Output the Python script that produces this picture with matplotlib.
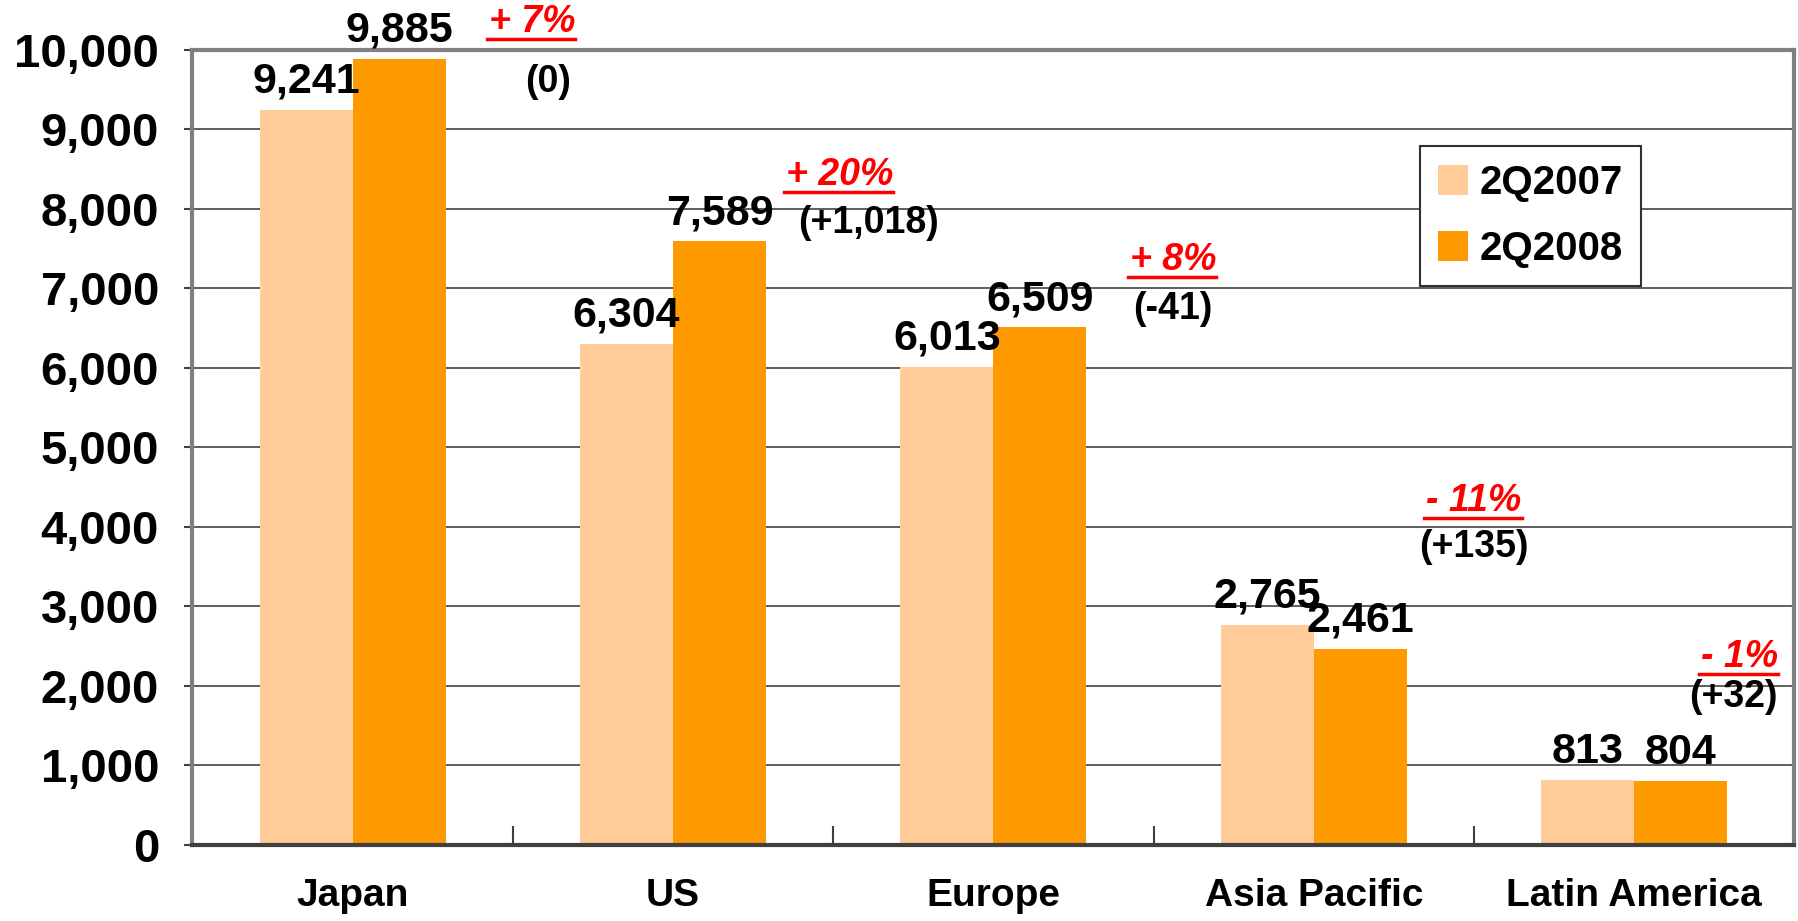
import numpy as np
import matplotlib
matplotlib.use('Agg')
import matplotlib.pyplot as plt
from matplotlib.lines import Line2D

# data
regions = ['Japan', 'US', 'Europe', 'Asia Pacific', 'Latin America']
q2_2007 = [9241, 6304, 6013, 2765, 813]
q2_2008 = [9885, 7589, 6509, 2461, 804]
pct_change = ['+ 7%', '+ 20%', '+ 8%', '- 11%', '- 1%']
abs_change = ['(0)', '(+1,018)', '(-41)', '(+135)', '(+32)']

# where the change notes sit (data coords)
pct_x = [0.56, 1.52, 2.56, 3.50, 4.33]
pct_y = [10350, 8430, 7360, 4330, 2370]
abs_x = [0.61, 1.61, 2.56, 3.50, 4.31]
abs_y = [9600, 7820, 6740, 3750, 1860]

light = '#FFCC99'
dark = '#FF9900'

plt.rcParams['font.family'] = ['Liberation Sans', 'DejaVu Sans']
plt.rcParams['font.weight'] = 'bold'

fig = plt.figure(figsize=(17.98, 9.21), dpi=100)
ax = fig.add_axes([0.107, 0.0825, 0.891, 0.8635])

x = np.arange(len(regions))
w = 0.29
b1 = ax.bar(x - w / 2, q2_2007, w, color=light, label='2Q2007', zorder=2)
b2 = ax.bar(x + w / 2, q2_2008, w, color=dark, label='2Q2008', zorder=2)

for bars, vals in [(b1, q2_2007), (b2, q2_2008)]:
    for rect, v in zip(bars, vals):
        ax.annotate(f'{v:,}', (rect.get_x() + rect.get_width() / 2, v),
                    xytext=(0, 6), textcoords='offset points',
                    ha='center', va='bottom', fontsize=31, fontweight='bold',
                    zorder=4, annotation_clip=False)

red_texts = []
for i in range(len(regions)):
    t = ax.text(pct_x[i], pct_y[i], pct_change[i], color='#FF0000',
                fontsize=27, fontweight='bold', style='italic',
                ha='center', va='center', zorder=4, clip_on=False)
    red_texts.append(t)
    ax.text(abs_x[i], abs_y[i], abs_change[i], color='black',
            fontsize=27, fontweight='bold', ha='center', va='center', zorder=4)

ax.set_xlim(-0.5, len(regions) - 0.5)
ax.set_ylim(0, 10000)
ax.set_yticks(np.arange(0, 10001, 1000))
ax.set_yticklabels([f'{v:,}' for v in range(0, 10001, 1000)])
ax.set_xticks(x)
ax.set_xticklabels(regions)
ax.set_xticks(np.arange(0.5, len(regions) - 0.5, 1), minor=True)

ax.tick_params(axis='y', labelsize=34, length=6, width=1.5, color='#404040', pad=18)
ax.tick_params(axis='x', which='major', labelsize=28, length=0, pad=24)
ax.tick_params(axis='x', which='minor', direction='in', length=14, width=1.5, color='#404040')

ax.yaxis.grid(True, color='#505050', linewidth=1.3, zorder=1)
ax.set_axisbelow(True)

for side in ['left', 'top', 'right']:
    ax.spines[side].set_color('#808080')
    ax.spines[side].set_linewidth(3)
ax.spines['bottom'].set_color('#404040')
ax.spines['bottom'].set_linewidth(3)

leg = ax.legend(loc='upper left', bbox_to_anchor=(0.766, 0.879), fontsize=29,
                handlelength=0.75, handleheight=0.75, handletextpad=0.3,
                labelspacing=0.7, borderpad=0.45, borderaxespad=0,
                fancybox=False, edgecolor='#303030', framealpha=1)
leg.get_frame().set_linewidth(1.5)
for t in leg.get_texts():
    t.set_fontweight('bold')

# underline the red percentage notes
fig.canvas.draw()
r = fig.canvas.get_renderer()
for t in red_texts:
    bb = t.get_window_extent(renderer=r)
    y0 = bb.y0 + 1
    (fx0, fy), (fx1, _) = fig.transFigure.inverted().transform([(bb.x0 - 2, y0), (bb.x1, y0)])
    fig.add_artist(Line2D([fx0, fx1], [fy, fy], color='#FF0000', linewidth=2.5))

fig.savefig('out.png', dpi=100, facecolor='white')
